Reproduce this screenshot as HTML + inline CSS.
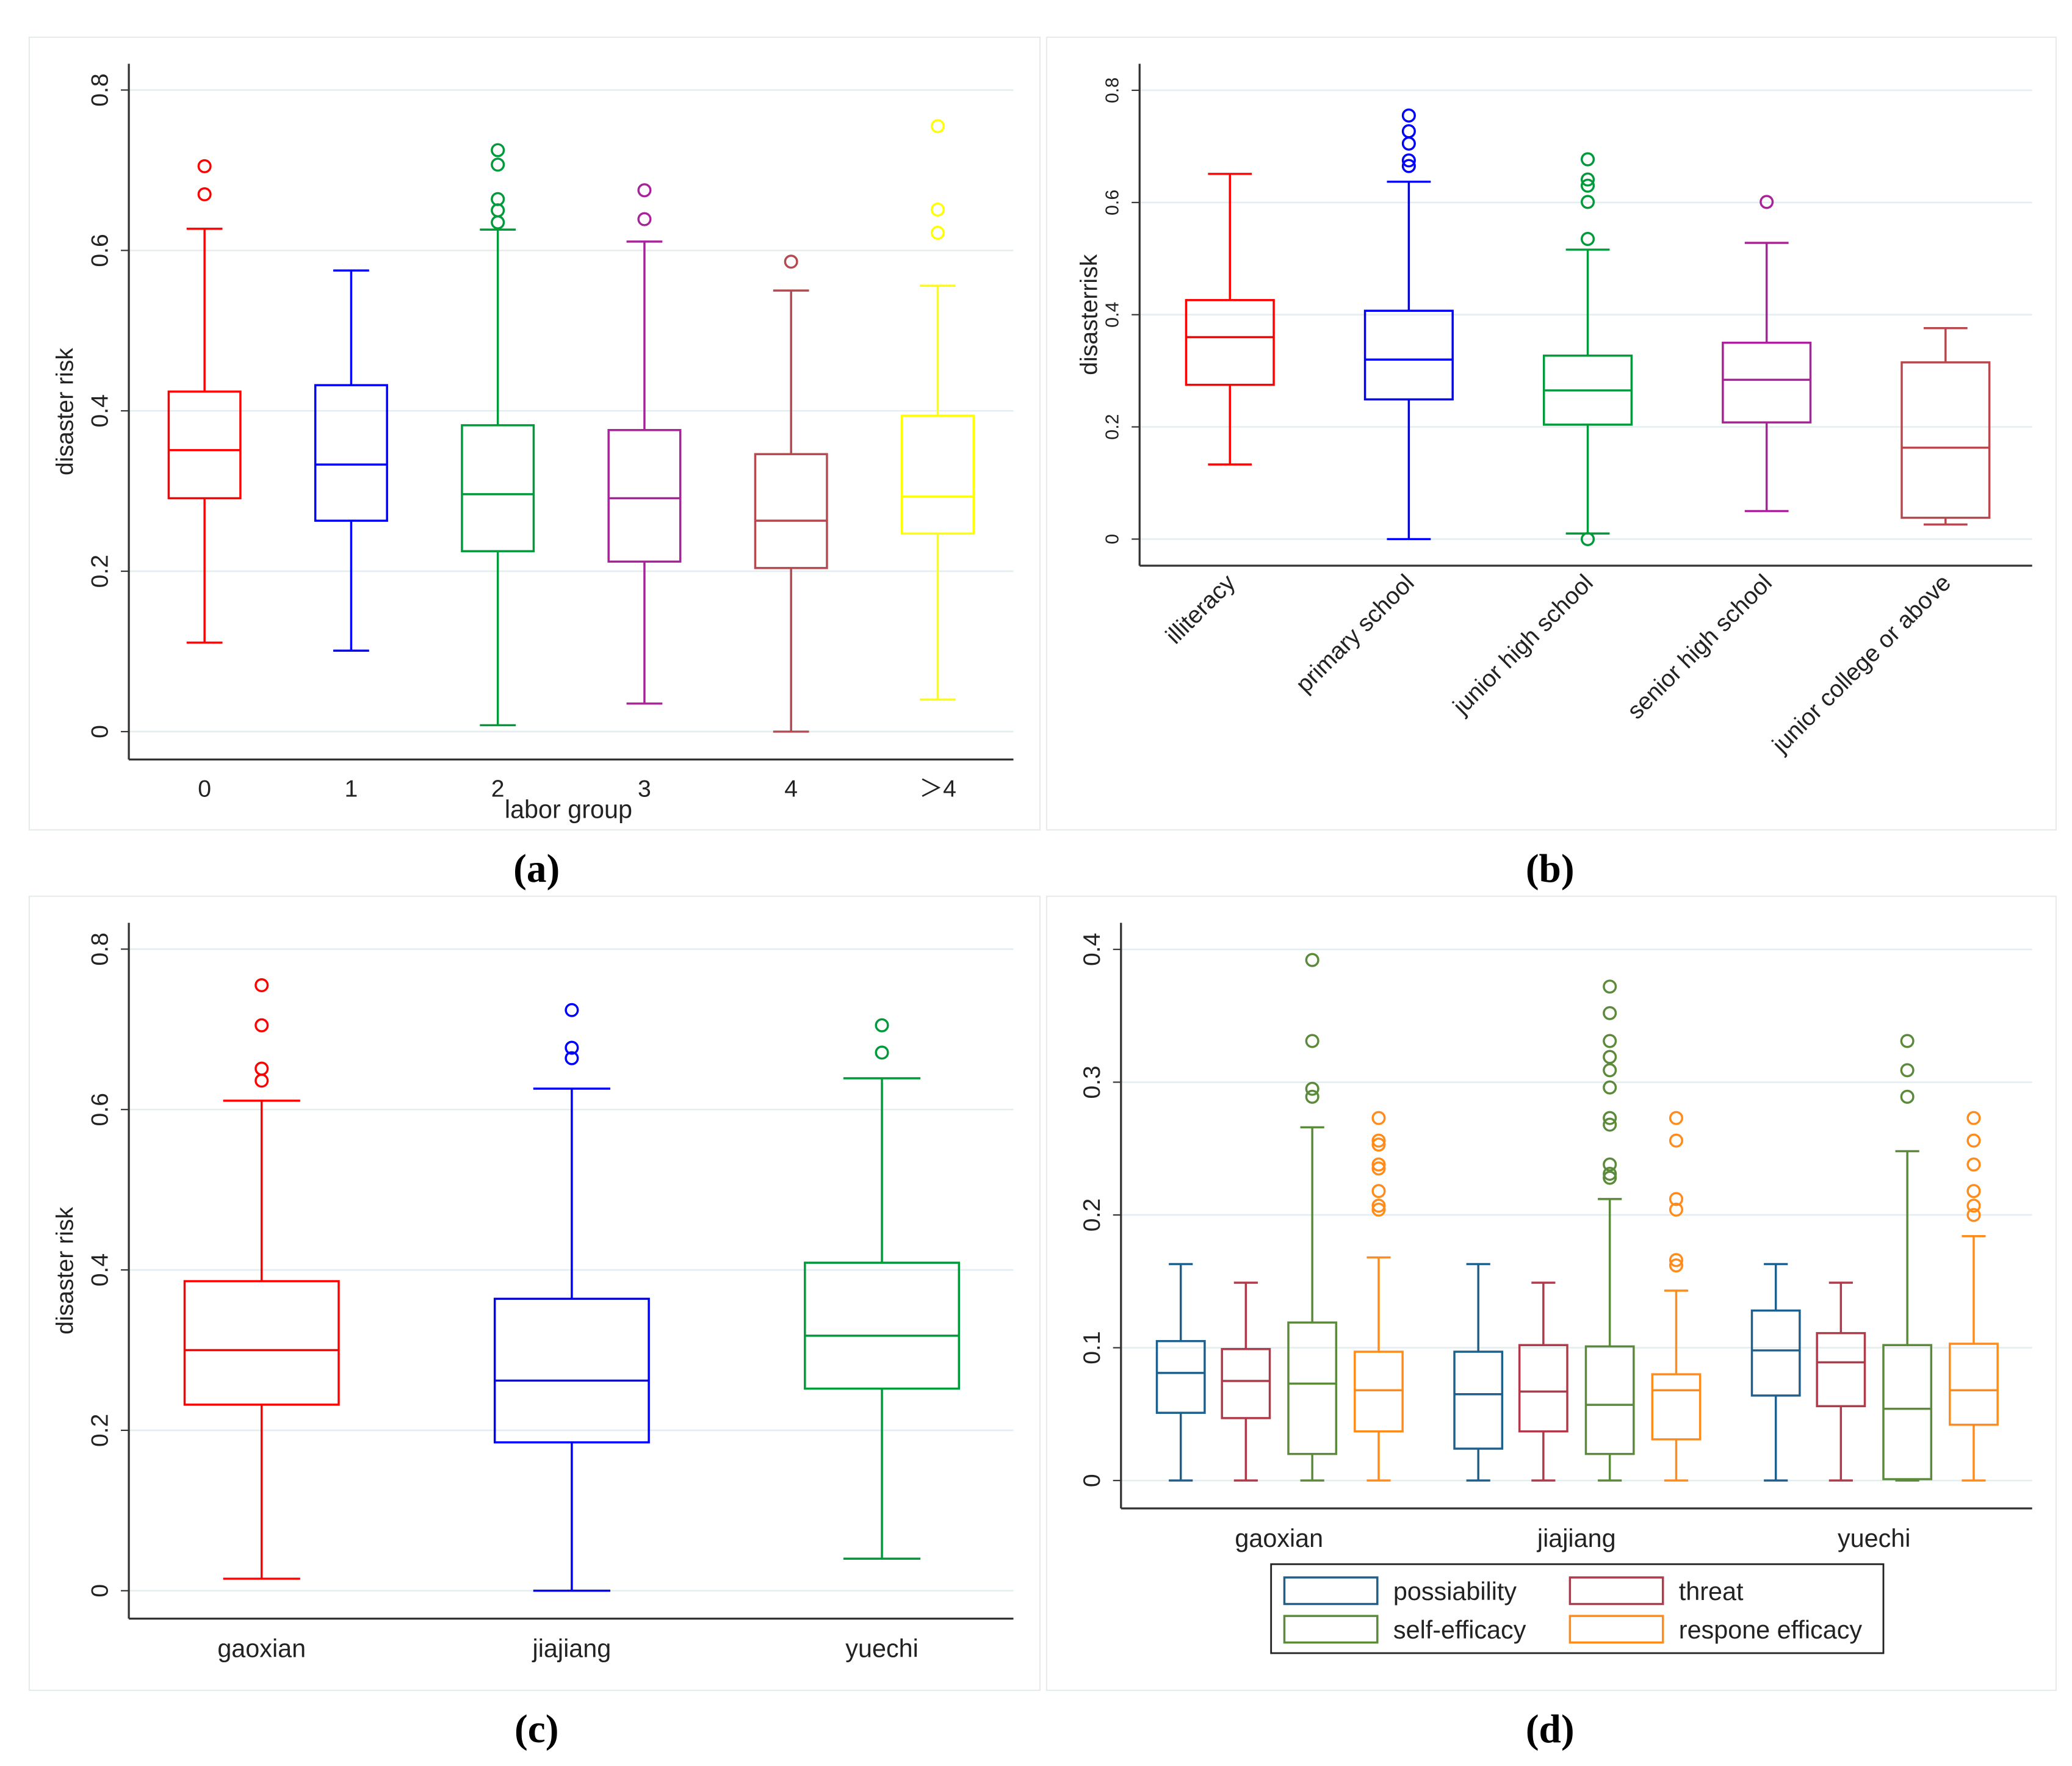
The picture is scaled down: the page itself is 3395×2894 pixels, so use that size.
<!DOCTYPE html>
<html><head><meta charset="utf-8"><style>
html,body{margin:0;padding:0;background:#fff}
svg{display:block}
text{font-family:"Liberation Sans",sans-serif}
text.cap{font-family:"Liberation Serif",serif;font-weight:bold}
</style></head><body>
<svg id="s" width="3395" height="2894" viewBox="0 0 1560 1330" preserveAspectRatio="none" xmlns="http://www.w3.org/2000/svg">
<rect x="22" y="28" width="761" height="597" fill="#fff" stroke="#e6ecec"/>
<rect x="788" y="28" width="760" height="597" fill="#fff" stroke="#e6ecec"/>
<rect x="22" y="675" width="761" height="598" fill="#fff" stroke="#e6ecec"/>
<rect x="788" y="675" width="760" height="598" fill="#fff" stroke="#e6ecec"/>
<g font-size="30" text-anchor="middle">
<text class="cap" style="font-family:'Liberation Serif',serif;font-weight:bold" x="404" y="664">(a)</text>
<text class="cap" style="font-family:'Liberation Serif',serif;font-weight:bold" x="1167" y="664">(b)</text>
<text class="cap" style="font-family:'Liberation Serif',serif;font-weight:bold" x="404" y="1312">(c)</text>
<text class="cap" style="font-family:'Liberation Serif',serif;font-weight:bold" x="1167" y="1312">(d)</text>
</g>
</svg>
<script>
// [hi, q3, med, q1, lo]
const aCats = ["0","1","2","3","4","＞4"];
const aStats = [[0.627,0.424,0.351,0.291,0.111],[0.575,0.432,0.333,0.263,0.101],[0.626,0.382,0.296,0.225,0.008],[0.611,0.376,0.291,0.212,0.035],[0.55,0.346,0.263,0.204,0],[0.556,0.394,0.293,0.247,0.04]];
const aOut = [[0.705,0.670],[],[0.725,0.707,0.664,0.65,0.635],[0.675,0.639],[0.586],[0.755,0.651,0.622]];
const aTicks = [0,0.2,0.4,0.6,0.8];
const bCats = ["illiteracy","primary school","junior high school","senior high school","junior college or above"];
const bStats = [[0.651,0.426,0.36,0.275,0.133],[0.637,0.407,0.32,0.249,0],[0.516,0.327,0.265,0.204,0.01],[0.528,0.35,0.284,0.208,0.05],[0.376,0.315,0.163,0.038,0.026]];
const bOut = [[],[0.755,0.727,0.705,0.675,0.665],[0.677,0.641,0.63,0.601,0.535,0],[0.601],[]];
const cCats = ["gaoxian","jiajiang","yuechi"];
const cStats = [[0.611,0.386,0.3,0.232,0.015],[0.626,0.364,0.262,0.185,0],[0.639,0.409,0.318,0.252,0.04]];
const cOut = [[0.755,0.705,0.651,0.636],[0.724,0.677,0.664],[0.705,0.671]];
const dGroups = ["gaoxian","jiajiang","yuechi"];
const dSeries = ["possiability","threat","self-efficacy","respone efficacy"];
const dStats = [
 [[0.163,0.105,0.081,0.051,0],[0.149,0.099,0.075,0.047,0],[0.266,0.119,0.073,0.02,0],[0.168,0.097,0.068,0.037,0]],
 [[0.163,0.097,0.065,0.024,0],[0.149,0.102,0.067,0.037,0],[0.212,0.101,0.057,0.02,0],[0.143,0.08,0.068,0.031,0]],
 [[0.163,0.128,0.098,0.064,0],[0.149,0.111,0.089,0.056,0],[0.248,0.102,0.054,0.001,0],[0.184,0.103,0.068,0.042,0]]];
const dOut = [
 [[],[],[0.392,0.331,0.295,0.289],[0.273,0.256,0.253,0.238,0.235,0.218,0.207,0.204]],
 [[],[],[0.372,0.352,0.331,0.319,0.309,0.296,0.273,0.268,0.238,0.231,0.228],[0.273,0.256,0.212,0.204,0.166,0.162]],
 [[],[],[0.331,0.309,0.289],[0.273,0.256,0.238,0.218,0.207,0.2]]];
const dTicks = [0,0.1,0.2,0.3,0.4];

const S=document.getElementById('s');const NS='http://www.w3.org/2000/svg';
function mk(tag,at,parent,txt){const e=document.createElementNS(NS,tag);for(const k in at)e.setAttribute(k,at[k]);if(txt!==undefined)e.textContent=txt;(parent||S).appendChild(e);return e;}

function axes(p){
 const g=mk('g',{});
 
 
 p.ticks.forEach(t=>{const y=p.sy(t);
  const gl=mk('line',{x1:p.x0,x2:p.x1,y1:y,y2:y,stroke:'#e4eef0','stroke-width':1.2},g);
  
  
  mk('line',{x1:p.x0-6,x2:p.x0,y1:y,y2:y,stroke:'#333','stroke-width':1},g);
  const tl=mk('text',{x:p.x0-16,y:y,transform:`rotate(-90 ${p.x0-16} ${y})`,'text-anchor':'middle','font-size':p.tfs,fill:'#222'},g,String(t));
  
  
 });
 mk('line',{x1:p.x0,x2:p.x0,y1:p.ytop,y2:p.ybot,stroke:'#333','stroke-width':1.5},g);
 mk('line',{x1:p.x0,x2:p.x1,y1:p.ybot,y2:p.ybot,stroke:'#333','stroke-width':1.5},g);
}
function box(st,out,cx,w,sy,col,name){
 const g=mk('g',{fill:'none',stroke:col,'stroke-width':1.6});
 
 
 const [hi,q3,md,q1,lo]=st.map(sy);
 mk('line',{x1:cx,x2:cx,y1:hi,y2:q3},g);mk('line',{x1:cx,x2:cx,y1:q1,y2:lo},g);
 mk('line',{x1:cx-w/4,x2:cx+w/4,y1:hi,y2:hi},g);mk('line',{x1:cx-w/4,x2:cx+w/4,y1:lo,y2:lo},g);
 mk('rect',{x:cx-w/2,y:q3,width:w,height:q1-q3},g);
 mk('line',{x1:cx-w/2,x2:cx+w/2,y1:md,y2:md},g);
 out.forEach(o=>{const c=mk('circle',{cx:cx,cy:sy(o),r:4.5},g);
  
  });
}
function label(x,y,t,fs,name,rot,anchor){
 const e=mk('text',{x:x,y:y,'font-size':fs,'text-anchor':anchor||'middle',fill:'#222',transform:rot?`rotate(${rot} ${x} ${y})`:''},S,t);
 
 
}
// Panel a
{const sy=v=>551-v*604;axes({name:'panel-a',x0:97,x1:763,ytop:48,ybot:572,sy,ticks:aTicks,tfs:18});
 const cols=['#ff0000','#0000ff','#009a3a','#aa2299','#b5494f','#ffff00'];
 aCats.forEach((c,i)=>{const cx=154+i*110.4;box(aStats[i],aOut[i],cx,54,sy,cols[i],'box-a-'+i);label(cx,600,c,18,'x-tick-label');});
 label(55,310,'disaster risk',18,'y-axis-title',-90);label(428,616,'labor group',19,'x-axis-title');}
// Panel b
{const sy=v=>406-v*422.5;axes({name:'panel-b',x0:858,x1:1530,ytop:48,ybot:426,sy,ticks:aTicks,tfs:14});
 const cols=['#ff0000','#0000ff','#009a3a','#aa2299','#b5494f'];
 bCats.forEach((c,i)=>{const cx=926+i*134.7;box(bStats[i],bOut[i],cx,66,sy,cols[i],'box-b-'+i);label(cx+5,440,c,18,'x-tick-label',-45,'end');});
 label(826,237,'disasterrisk',18,'y-axis-title',-90);}
// Panel c
{const sy=v=>1198-v*604;axes({name:'panel-c',x0:97,x1:763,ytop:695,ybot:1219,sy,ticks:aTicks,tfs:18});
 const cols=['#ff0000','#0000ff','#009a3a'];
 cCats.forEach((c,i)=>{const cx=197+i*233.5;box(cStats[i],cOut[i],cx,116,sy,cols[i],'box-c-'+i);label(cx,1248,c,19,'x-tick-label');});
 label(55,957,'disaster risk',18,'y-axis-title',-90);}
// Panel d
{const sy=v=>1115-v*1000;axes({name:'panel-d',x0:844,x1:1530,ytop:695,ybot:1136,sy,ticks:dTicks,tfs:18});
 const cols=['#1f5f8b','#b0394a','#5a8a3a','#ff8c1a'];const offs=[-74,-25,25,75];
 dGroups.forEach((gname,i)=>{const gx=963+i*224;
  dSeries.forEach((s,j)=>box(dStats[i][j],dOut[i][j],gx+offs[j],36,sy,cols[j],'box-d-'+gname+'-'+j));
  label(gx,1165,gname,19,'x-tick-label');});
 const lg=mk('g',{});
 
 
 mk('rect',{x:957,y:1178,width:461,height:67,fill:'#fff',stroke:'#222','stroke-width':1.3},lg);
 dSeries.forEach((s,j)=>{const x=j%2?1182:967,y=j<2?1188:1217;
  const e=mk('g',{},lg);
  
  
  mk('rect',{x:x,y:y,width:70,height:20,fill:'none',stroke:cols[j],'stroke-width':1.6},e);
  mk('text',{x:x+82,y:y+17,'font-size':19,fill:'#222'},e,s);});}
</script>
</body></html>
